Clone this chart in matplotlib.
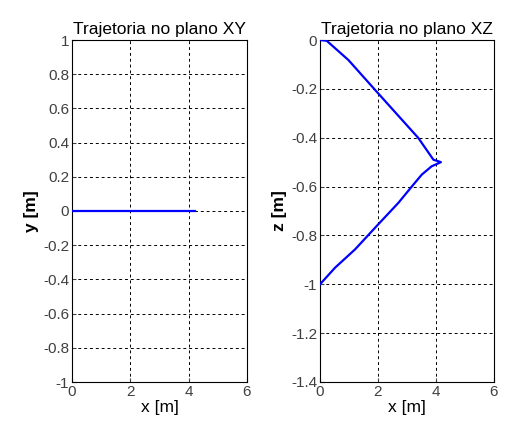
import numpy as np
import matplotlib.pyplot as plt

plt.rcParams['font.family'] = ['Liberation Sans', 'DejaVu Sans']

# trajectory in the XY plane
xy_x = [0.0, 1.0, 2.0, 3.0, 4.2]
xy_y = [0.0, 0.0, 0.0, 0.0, 0.0]

# trajectory in the XZ plane
xz_x = [0.0, 0.23, 0.98, 1.95, 3.39, 3.91, 4.17,
        3.85, 3.51, 3.22, 2.70, 1.95, 1.21, 0.52, 0.0]
xz_z = [0.0, -0.003, -0.082, -0.211, -0.401, -0.49, -0.5,
        -0.517, -0.551, -0.592, -0.667, -0.762, -0.857, -0.932, -1.0]

xticks = [0, 2, 4, 6]
yticks_xy = [-1, -0.8, -0.6, -0.4, -0.2, 0, 0.2, 0.4, 0.6, 0.8, 1]
yticks_xz = [-1.4, -1.2, -1, -0.8, -0.6, -0.4, -0.2, 0]


def fmt(v):
    return '%g' % v


fig = plt.figure(figsize=(5.06, 4.25), dpi=100)
ax1 = fig.add_axes([72 / 506, 1 - 382 / 425, 175 / 506, 342 / 425])
ax2 = fig.add_axes([320 / 506, 1 - 382 / 425, 174 / 506, 342 / 425])

panels = [
    (ax1, xy_x, xy_y, yticks_xy, (-1, 1), 'y [m]', 'Trajetoria no plano XY'),
    (ax2, xz_x, xz_z, yticks_xz, (-1.4, 0), 'z [m]', 'Trajetoria no plano XZ'),
]

for ax, xs, ys, yt, ylim, ylab, title in panels:
    ax.plot(xs, ys, color='#0000ff', lw=1.6, zorder=3)
    ax.set_xlim(0, 6)
    ax.set_ylim(*ylim)
    ax.set_xticks(xticks)
    ax.set_yticks(yt)
    ax.set_xticklabels([fmt(v) for v in xticks])
    ax.set_yticklabels([fmt(v) for v in yt])
    ax.grid(True, color='black', linestyle=(0, (3, 3)), lw=0.7)
    ax.tick_params(direction='in', length=3, labelsize=11, colors='#404040', pad=2)
    for sp in ax.spines.values():
        sp.set_color('black')
        sp.set_linewidth(0.8)
    ax.set_xlabel('x [m]', fontsize=12.5, labelpad=1)
    ax.set_ylabel(ylab, fontsize=12.5, fontweight='bold', labelpad=3)
    ax.set_title(title, fontsize=12.5, pad=4)

fig.savefig('out.png', dpi=100, facecolor='white')
